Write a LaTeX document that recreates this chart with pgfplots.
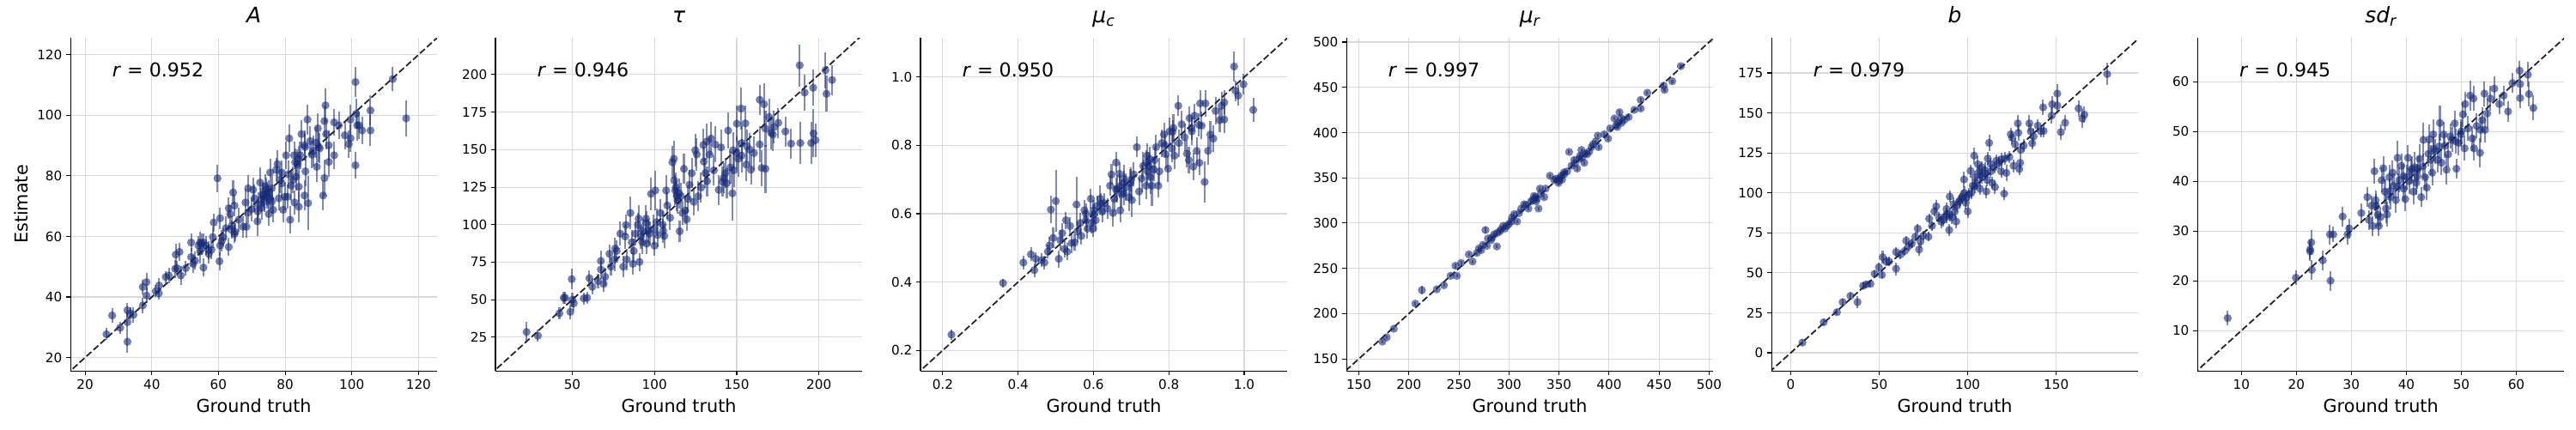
\documentclass[border=0pt]{standalone}
\usepackage{fontspec}
\setmainfont{DejaVu Sans}
\usepackage{pgfplots}
\pgfplotsset{compat=1.18}
\definecolor{navyc}{RGB}{22,42,120}
\pgfplotsset{
  panel/.style={
    scale only axis, width=308.6pt, height=280.4pt,
    anchor=south west,
    axis lines*=left, axis line style={line width=0.8pt,-},
    tick align=outside, major tick length=3.5pt,
    tick style={line width=0.8pt, black},
    grid=major, grid style={line width=0.8pt, color=gray!30},
    tick label style={font=\fontsize{11}{13}\selectfont},
    /pgf/number format/assume math mode=true,
    xlabel={Ground truth},
    label style={font=\fontsize{15}{18}\selectfont},
    xlabel style={at={(axis description cs:0.5,0)}, anchor=base, yshift=-35pt},
    title style={at={(axis description cs:0.5,1)}, anchor=base, yshift=6.7pt, font=\fontsize{18}{21}\selectfont\itshape},
    scaled ticks=false,
  },
  pts/.style={only marks, mark=*, mark size=3.4pt, color=navyc,
    mark options={draw opacity=0, fill opacity=0.6},
    error bars/.cd, y dir=both, y explicit, error mark=none,
    error bar style={line width=1.5pt, opacity=0.55, color=navyc}},
  diag/.style={black, line width=1.3pt, dash pattern=on 5.5pt off 2.4pt, opacity=0.85},
}
\newcommand{\rlab}[1]{\node[anchor=base west, font=\fontsize{16}{19}\selectfont] at (rel axis cs:0.103,0.884) {\textit{r} = #1};}
\begin{document}
\begin{tikzpicture}
\path[use as bounding box] (0,0) rectangle (2168pt,361.35pt);
% ---------------- A
\begin{axis}[panel, at={(59.3pt,49.1pt)}, title={A}, ylabel={Estimate},
  ylabel style={at={(axis description cs:-0.1155,0.5)}, anchor=base},
  xmin=15.6, xmax=125.6, ymin=15.6, ymax=125.6,
  xtick={20,40,60,80,100,120}, ytick={20,40,60,80,100,120}]
\addplot[diag] coordinates {(10,10) (130,130)};
\addplot[pts] table[x=x,y=y,y error=e,row sep=\\] {
x y e\\
26.4 27.7 2.0\\ 28.1 33.9 2.5\\ 30.5 29.8 2.0\\ 32.7 25.2 3.5\\ 32.7 31.7 3.0\\
32.7 35.6 2.5\\ 34.5 34.1 2.5\\ 33.5 34.6 2.0\\ 37.3 37.2 2.5\\ 37.3 43.3 2.5\\
38.4 44.9 3.0\\ 38.4 40.5 2.5\\ 41.2 41.9 2.0\\ 42.1 41.2 2.0\\ 42.2 43.8 2.5\\
44.2 46.6 2.0\\ 45.1 47.1 2.5\\ 47.0 49.3 3.0\\ 47.2 54.0 3.5\\ 48.3 54.9 3.0\\
47.6 49.5 2.5\\ 48.7 47.1 3.0\\ 50.2 49.5 2.5\\ 51.8 53.2 3.0\\ 51.8 58.0 3.0\\
52.4 50.9 3.0\\ 54.5 55.1 4.0\\ 54.5 58.0 3.5\\ 55.5 49.7 3.0\\ 56.2 57.0 3.0\\
57.1 54.2 3.0\\ 57.9 55.6 3.0\\ 58.3 59.8 3.5\\ 58.6 64.6 3.0\\ 59.7 79.2 4.5\\
60.3 51.8 3.0\\ 60.5 57.0 3.5\\ 60.5 66.0 3.5\\ 61.4 59.8 3.0\\ 62.2 62.7 4.0\\
63.1 69.3 3.5\\ 63.1 56.5 3.0\\ 63.5 67.4 3.0\\ 63.9 62.2 3.0\\ 64.4 74.5 4.0\\
64.8 70.2 3.5\\ 64.8 60.8 3.0\\ 66.1 65.5 4.0\\ 67.4 63.2 3.5\\ 68.1 71.2 4.5\\
68.4 63.2 3.5\\ 68.9 75.9 4.5\\ 68.9 67.9 3.5\\ 70.4 75.4 4.0\\ 70.8 72.6 4.5\\
71.7 65.0 5.0\\ 71.8 68.3 4.0\\ 72.5 77.8 5.0\\ 72.7 72.1 4.0\\ 73.4 74.0 4.0\\
73.8 71.6 3.5\\ 74.2 75.4 4.0\\ 74.7 73.1 4.0\\ 75.1 67.4 4.0\\ 75.5 81.1 4.5\\
76.0 75.9 4.0\\ 76.4 68.8 4.0\\ 77.3 82.0 4.0\\ 77.7 83.9 4.5\\ 78.1 72.6 4.0\\
78.5 78.7 4.5\\ 79.0 81.1 4.0\\ 79.4 68.8 4.0\\ 79.9 73.1 4.5\\ 80.3 86.8 4.5\\
80.7 73.1 4.0\\ 81.2 92.4 4.5\\ 81.5 65.5 4.5\\ 81.8 76.8 5.0\\ 82.4 78.7 4.5\\
82.7 86.8 4.5\\ 82.8 71.2 4.0\\ 83.3 79.7 4.5\\ 83.7 83.9 5.0\\ 84.1 76.4 5.0\\
84.1 69.8 5.0\\ 84.5 86.8 4.5\\ 84.9 93.8 4.5\\ 85.8 73.5 5.0\\ 86.1 81.5 5.0\\
85.8 90.1 5.0\\ 86.7 98.6 5.0\\ 86.9 71.0 9.0\\ 87.5 91.5 5.0\\ 88.4 88.2 5.0\\
89.3 91.0 5.0\\ 89.5 83.0 5.0\\ 89.8 95.7 5.0\\ 90.4 89.1 5.0\\ 91.4 73.5 5.0\\
91.8 79.3 6.0\\ 91.8 98.1 5.0\\ 92.1 103.3 5.5\\ 92.3 93.8 5.0\\ 93.1 90.1 5.0\\
93.1 84.6 5.0\\ 94.7 86.8 4.5\\ 94.7 97.7 4.5\\ 96.1 96.7 4.5\\ 97.9 93.4 4.5\\
99.1 90.5 4.5\\ 99.6 92.4 4.5\\ 99.6 98.6 5.0\\ 101.1 83.5 4.5\\ 101.1 111.0 5.0\\
101.3 100.5 5.0\\ 101.6 96.7 5.0\\ 102.2 96.7 4.5\\ 103.1 95.0 4.5\\ 105.6 101.6 5.0\\
105.6 95.0 5.0\\ 112.3 112.0 4.0\\ 116.3 99.0 6.0\\
55.5 58.0 3.0\\ 55.0 57.5 3.5\\ 54.0 57.0 3.0\\ 53.0 52.0 3.0\\ 57.0 55.5 3.0\\
61.0 58.5 3.5\\ 64.0 63.5 3.5\\ 65.0 61.5 3.0\\ 70.0 69.0 4.0\\ 72.0 70.5 4.0\\
74.0 76.5 4.0\\ 75.0 74.5 4.0\\ 73.0 69.5 4.0\\ 76.0 71.5 4.0\\ 79.0 77.5 4.5\\
81.0 80.5 4.5\\ 83.0 84.5 4.5\\ 84.0 85.5 4.5\\ 86.0 89.5 4.5\\ 88.0 87.0 4.5\\
90.0 89.5 5.0\\ 74.5 74.0 4.0\\ 75.5 72.5 4.0\\ 73.5 73.5 4.0\\
};
\rlab{0.952}
\end{axis}
% ---------------- tau
\begin{axis}[panel, at={(417.0pt,49.1pt)}, title={τ},
  xmin=3.3, xmax=226.3, ymin=2.6, ymax=224.5,
  xtick={50,100,150,200}, ytick={25,50,75,100,125,150,175,200,225}]
\addplot[diag] coordinates {(0,0) (230,230)};
\addplot[pts] table[x=x,y=y,y error=e,row sep=\\] {
x y e\\
22.2 28.5 7\\ 29.1 26.0 4\\ 42.2 40.9 4\\ 44.8 51.3 4\\ 45.7 51.3 4\\
48.8 41.9 5\\ 49.7 63.7 7\\ 50.0 49.9 5\\ 50.9 47.6 5\\ 57.0 50.9 4\\
59.0 51.3 4\\ 60.4 64.3 5\\ 62.2 58.6 5\\ 65.7 62.4 5\\ 67.4 75.8 7\\
67.4 70.1 6\\ 69.1 60.5 5\\ 70.0 65.3 6\\ 72.6 80.6 6\\ 73.5 72.0 6\\
75.8 76.8 8\\ 76.1 84.1 7\\ 77.0 82.5 7\\ 79.2 94.0 8\\ 81.0 72.0 7\\
82.2 92.1 8\\ 82.7 99.8 7\\ 83.1 76.8 7\\ 85.3 107.8 11\\ 86.2 88.3 8\\
86.9 73.9 7\\ 87.4 82.5 8\\ 88.3 94.0 8\\ 90.0 99.8 8\\ 90.4 104.0 9\\
90.9 75.2 6\\ 91.8 92.1 8\\ 92.6 88.3 8\\ 94.9 104.0 9\\ 95.2 87.3 7\\
96.1 96.0 8\\ 97.9 120.5 11\\ 99.6 96.9 10\\ 100.1 86.0 7\\ 100.5 122.8 13\\
101.3 101.7 9\\ 101.9 93.1 8\\ 103.6 107.8 9\\ 105.3 96.0 8\\ 106.0 92.5 8\\
107.1 122.8 10\\ 107.8 112.8 9\\ 109.5 104.6 8\\ 110.9 141.6 11\\ 111.8 143.9 12\\
112.0 129.5 11\\ 112.6 122.8 10\\ 113.5 119.0 10\\ 114.0 116.1 9\\ 115.3 95.6 7\\
116.1 119.0 9\\ 117.0 107.8 8\\ 117.9 137.2 10\\ 118.7 109.4 9\\ 119.6 103.6 8\\
120.4 117.1 9\\ 121.3 126.6 10\\ 122.7 134.3 10\\ 123.9 115.2 9\\ 124.8 149.6 11\\
125.7 146.8 11\\ 126.6 119.0 10\\ 128.3 124.7 10\\ 129.7 153.1 11\\ 130.0 142.0 10\\
130.9 134.3 10\\ 131.8 155.4 12\\ 133.5 146.8 12\\ 134.4 157.4 11\\ 136.1 136.2 10\\
137.0 153.4 12\\ 139.1 123.2 10\\ 140.5 151.5 12\\ 141.4 128.5 10\\ 143.1 134.3 10\\
144.0 127.6 10\\ 144.8 162.7 12\\ 146.1 138.1 11\\ 147.4 120.9 18\\ 147.8 149.6 12\\
148.3 136.2 11\\ 150.1 167.3 12\\ 150.9 143.9 12\\ 152.7 177.4 14\\ 153.0 154.4 12\\
155.3 167.5 12\\ 155.8 140.0 11\\ 156.1 152.5 11\\ 158.7 136.6 10\\ 160.5 147.7 11\\
164.0 183.2 10\\ 164.0 153.5 12\\ 165.2 137.8 12\\ 166.6 180.3 14\\ 167.5 137.2 16\\
167.5 164.0 12\\ 169.7 171.7 12\\ 170.9 161.2 11\\ 172.7 165.0 11\\ 175.3 167.9 10\\
179.6 162.1 10\\ 183.1 154.0 10\\ 188.3 206.2 14\\ 188.7 154.4 14\\ 191.3 188.0 12\\
195.3 154.4 14\\ 196.5 191.2 12\\ 196.7 160.8 16\\ 197.9 156.3 11\\ 204.0 202.9 12\\
204.6 187.2 12\\ 208.0 196.4 10\\
93.0 96.0 8\\ 95.0 101.0 8\\ 97.0 94.0 8\\ 105.0 100.0 9\\ 113.0 125.0 10\\
115.0 121.0 10\\ 132.0 129.0 10\\ 142.0 131.0 10\\ 150.0 148.0 11\\ 153.0 146.0 11\\
158.0 150.0 11\\ 172.0 160.0 11\\
};
\rlab{0.946}
\end{axis}
% ---------------- mu_c
\begin{axis}[panel, at={(774.7pt,49.1pt)}, title={μ\textsubscript{c}},
  xmin=0.141, xmax=1.114, ymin=0.14, ymax=1.115,
  xtick={0.2,0.4,0.6,0.8,1.0}, ytick={0.2,0.4,0.6,0.8,1.0},
  xticklabel style={/pgf/number format/.cd, fixed, fixed zerofill, precision=1},
  yticklabel style={/pgf/number format/.cd, fixed, fixed zerofill, precision=1}]
\addplot[diag] coordinates {(0,0) (1.2,1.2)};
\addplot[pts] table[x=x,y=y,y error=e,row sep=\\] {
x y e\\
0.223 0.246 0.015\\ 0.360 0.397 0.012\\ 0.414 0.457 0.02\\ 0.434 0.481 0.02\\ 0.443 0.435 0.02\\
0.447 0.468 0.02\\ 0.462 0.464 0.02\\ 0.470 0.457 0.02\\ 0.479 0.489 0.02\\ 0.483 0.507 0.025\\
0.487 0.612 0.04\\ 0.493 0.529 0.03\\ 0.500 0.637 0.09\\ 0.508 0.468 0.025\\ 0.512 0.523 0.03\\
0.517 0.543 0.03\\ 0.523 0.497 0.025\\ 0.527 0.581 0.025\\ 0.530 0.489 0.025\\ 0.538 0.564 0.025\\
0.542 0.514 0.03\\ 0.550 0.516 0.025\\ 0.555 0.627 0.08\\ 0.557 0.548 0.03\\ 0.565 0.573 0.03\\
0.568 0.535 0.025\\ 0.576 0.610 0.03\\ 0.580 0.581 0.03\\ 0.584 0.556 0.03\\ 0.593 0.644 0.03\\
0.595 0.573 0.03\\ 0.599 0.556 0.025\\ 0.600 0.598 0.03\\ 0.606 0.581 0.03\\ 0.610 0.623 0.03\\
0.618 0.644 0.04\\ 0.623 0.606 0.03\\ 0.629 0.631 0.03\\ 0.637 0.615 0.03\\ 0.644 0.682 0.03\\
0.648 0.715 0.03\\ 0.652 0.602 0.04\\ 0.655 0.644 0.04\\ 0.660 0.750 0.03\\ 0.663 0.673 0.04\\
0.669 0.717 0.035\\ 0.671 0.610 0.035\\ 0.675 0.657 0.04\\ 0.681 0.703 0.04\\ 0.686 0.677 0.04\\
0.694 0.648 0.04\\ 0.698 0.690 0.04\\ 0.702 0.640 0.05\\ 0.707 0.715 0.035\\ 0.715 0.795 0.03\\
0.721 0.665 0.04\\ 0.728 0.703 0.04\\ 0.732 0.740 0.04\\ 0.740 0.682 0.04\\ 0.742 0.770 0.035\\
0.743 0.724 0.04\\ 0.747 0.740 0.04\\ 0.751 0.707 0.05\\ 0.755 0.682 0.06\\ 0.762 0.757 0.04\\
0.766 0.795 0.035\\ 0.772 0.682 0.035\\ 0.775 0.724 0.04\\ 0.781 0.807 0.04\\ 0.787 0.832 0.035\\
0.792 0.774 0.04\\ 0.798 0.732 0.04\\ 0.802 0.841 0.04\\ 0.808 0.791 0.04\\ 0.812 0.851 0.04\\
0.815 0.770 0.04\\ 0.825 0.916 0.03\\ 0.827 0.807 0.04\\ 0.834 0.862 0.04\\ 0.842 0.824 0.04\\
0.848 0.776 0.04\\ 0.853 0.757 0.04\\ 0.855 0.880 0.035\\ 0.861 0.841 0.04\\ 0.865 0.738 0.04\\
0.868 0.887 0.035\\ 0.874 0.784 0.04\\ 0.881 0.749 0.035\\ 0.883 0.923 0.04\\ 0.887 0.858 0.04\\
0.895 0.693 0.06\\ 0.897 0.923 0.04\\ 0.904 0.784 0.04\\ 0.910 0.832 0.04\\ 0.918 0.820 0.04\\
0.924 0.901 0.04\\ 0.935 0.874 0.035\\ 0.940 0.916 0.04\\ 0.947 0.926 0.035\\ 0.947 0.876 0.04\\
0.973 1.031 0.045\\ 0.977 0.960 0.03\\ 0.984 0.946 0.03\\ 0.998 0.979 0.03\\ 1.024 0.904 0.035\\
0.58 0.60 0.03\\ 0.60 0.61 0.03\\ 0.62 0.63 0.03\\ 0.66 0.67 0.035\\ 0.67 0.68 0.035\\
0.68 0.66 0.035\\ 0.68 0.69 0.035\\ 0.70 0.70 0.035\\ 0.74 0.75 0.035\\ 0.75 0.76 0.035\\
0.76 0.73 0.035\\ 0.79 0.80 0.035\\ 0.81 0.84 0.035\\ 0.86 0.85 0.035\\ 0.88 0.86 0.035\\
};
\rlab{0.950}
\end{axis}
% ---------------- mu_r
\begin{axis}[panel, at={(1133.2pt,49.1pt)}, title={μ\textsubscript{r}},
  xmin=137.6, xmax=504, ymin=136.7, ymax=504.7,
  xtick={150,200,250,300,350,400,450,500}, ytick={150,200,250,300,350,400,450,500}]
\addplot[diag] coordinates {(130,130) (510,510)};
\addplot[pts] table[x=x,y=y,y error=e,row sep=\\] {
x y e\\
173.5 169.0 2\\ 177.8 173.7 2\\ 184.9 183.2 2\\ 206.4 211.0 2\\ 213.0 225.9 5\\
227.8 226.8 2\\ 235.0 231.3 2\\ 241.6 241.7 2\\ 246.5 252.8 3\\ 247.9 241.7 2\\
252.2 255.9 2\\ 259.9 265.4 2\\ 263.6 257.5 2\\ 267.9 267.0 2\\ 272.2 270.1 2\\
276.5 292.3 4\\ 277.9 274.9 2\\ 282.2 281.2 2\\ 285.1 287.5 2\\ 287.9 274.2 2\\
290.8 290.7 2\\ 294.2 297.0 2\\ 297.9 297.0 2\\ 302.3 301.8 3\\ 305.1 309.7 3\\
308.0 301.8 2\\ 312.3 316.0 3\\ 315.1 320.7 2\\ 319.4 316.0 2\\ 323.7 325.5 3\\
326.6 328.6 2\\ 329.5 316.0 2\\ 330.9 338.1 2\\ 335.2 328.6 2\\ 336.6 338.1 2\\
340.9 352.3 2\\ 345.2 347.6 3\\ 349.5 344.4 3\\ 352.3 352.3 2\\ 355.2 353.9 2\\
358.1 357.1 2\\ 360.1 378.6 2\\ 362.4 363.4 3\\ 365.2 369.7 3\\ 368.1 360.2 2\\
371.0 374.5 3\\ 372.4 380.8 2\\ 375.2 366.6 2\\ 378.1 376.0 3\\ 382.4 383.9 2\\
386.7 390.3 2\\ 388.7 396.6 2\\ 389.6 383.9 2\\ 395.3 398.2 2\\ 399.0 393.4 2\\
401.0 404.5 2\\ 405.3 415.6 2\\ 408.2 406.1 2\\ 410.4 422.5 3\\ 412.5 410.8 2\\
415.3 414.0 2\\ 419.6 417.1 2\\ 425.3 425.1 2\\ 431.6 426.6 2\\ 431.6 436.1 2\\
438.2 444.0 2\\ 454.5 451.9 2\\ 455.4 447.2 2\\ 463.1 456.7 2\\ 471.7 473.4 2\\
270 272 2\\ 274 276 2\\ 279 283 2\\ 283 284 2\\ 288 289 2\\
292 293 2\\ 296 294 2\\ 300 299 2\\ 303 306 2\\ 310 311 2\\
317 320 2\\ 322 324 2\\ 325 330 2\\ 327 324 2\\ 328 327 2\\
332 333 2\\ 347 349 2\\ 350 347 2\\ 351 350 2\\ 353 348 2\\
355 356 2\\ 366 366 2\\ 370 371 2\\ 373 372 2\\ 376 377 2\\
380 379 2\\ 384 387 2\\ 407 408 2\\ 409 411 2\\ 412 416 2\\
};
\rlab{0.997}
\end{axis}
% ---------------- b
\begin{axis}[panel, at={(1490.9pt,49.1pt)}, title={b},
  xmin=-10.9, xmax=196.3, ymin=-11.3, ymax=197,
  xtick={0,50,100,150}, ytick={0,25,50,75,100,125,150,175}]
\addplot[diag] coordinates {(-20,-20) (210,210)};
\addplot[pts] table[x=x,y=y,y error=e,row sep=\\] {
x y e\\
6.6 6.4 1.5\\ 18.6 19.1 2\\ 26.1 25.4 2\\ 29.3 31.7 2\\ 33.7 35.6 2\\
37.7 31.7 4\\ 40.9 41.9 2\\ 42.6 42.8 2\\ 45.0 43.1 2\\ 47.4 49.4 2\\
49.8 53.5 3\\ 51.5 48.7 2\\ 51.9 59.8 4\\ 53.9 57.1 3\\ 55.5 57.1 3\\
59.5 52.6 4\\ 59.5 63.0 3\\ 62.0 61.5 3\\ 64.4 63.7 3\\ 65.2 70.1 3\\
66.5 66.6 3\\ 68.4 68.3 3\\ 70.4 72.6 3\\ 71.7 77.7 3\\ 72.5 64.6 4\\
73.3 69.6 4\\ 74.9 73.2 3\\ 77.8 72.6 3\\ 78.2 83.9 3\\ 79.8 79.4 3\\
81.1 88.4 3\\ 82.2 91.6 4\\ 83.8 84.8 3\\ 86.2 83.0 4\\ 87.9 86.6 4\\
89.5 76.8 4\\ 89.8 97.7 4\\ 91.1 84.8 4\\ 92.7 88.4 4\\ 93.5 82.1 4\\
95.1 94.6 4\\ 96.8 97.3 4\\ 97.9 108.4 5\\ 98.9 93.8 4\\ 100.0 88.4 4\\
100.8 99.1 4\\ 101.6 113.8 4\\ 102.8 104.5 4\\ 103.6 123.3 5\\ 104.0 109.9 4\\
104.9 106.3 4\\ 105.7 117.9 5\\ 106.5 113.4 4\\ 106.9 102.7 4\\ 108.1 109.9 4\\
109.7 114.3 5\\ 110.5 100.9 4\\ 111.3 121.5 4\\ 112.1 131.3 5\\ 112.9 113.4 4\\
113.8 106.3 4\\ 115.4 103.6 4\\ 116.2 120.2 4\\ 117.8 118.8 4\\ 118.9 113.4 4\\
120.6 99.5 4\\ 121.0 121.5 4\\ 121.8 112.5 5\\ 123.5 122.4 4\\ 124.3 136.7 4\\
125.1 134.5 4\\ 125.9 117.0 4\\ 126.7 130.4 4\\ 128.3 143.5 5\\ 128.6 137.6 5\\
129.1 114.9 4\\ 129.6 118.8 4\\ 129.9 126.9 4\\ 131.6 129.5 4\\ 134.8 143.5 5\\
135.6 138.5 5\\ 136.4 131.0 4\\ 137.2 135.3 5\\ 139.6 142.1 4\\ 141.3 138.5 4\\
142.9 138.8 4\\ 142.6 153.5 5\\ 147.4 148.3 5\\ 147.7 155.5 5\\ 150.6 162.1 6\\
150.6 154.6 5\\ 152.6 138.0 5\\ 155.0 143.9 5\\ 162.6 152.8 5\\ 164.7 146.5 6\\
165.9 148.9 5\\ 178.8 174.3 7\\
88 85 4\\ 90 86 4\\ 94 92 4\\ 96 96 4\\ 98 100 4\\
99 97 4\\ 102 100 4\\ 104 104 4\\ 107 111 4\\ 108 116 4\\
110 112 4\\ 111 108 4\\ 113 118 4\\ 115 116 4\\ 119 121 4\\
88 90 4\\ 92 93 4\\ 85 82 4\\
};
\rlab{0.979}
\end{axis}
% ---------------- sd_r
\begin{axis}[panel, at={(1849.4pt,49.1pt)}, title={sd\textsubscript{r}},
  xmin=2.0, xmax=68.7, ymin=1.9, ymax=68.8,
  xtick={10,20,30,40,50,60}, ytick={10,20,30,40,50,60}]
\addplot[diag] coordinates {(0,0) (70,70)};
\addplot[pts] table[x=x,y=y,y error=e,row sep=\\] {
x y e\\
7.5 12.5 1.5\\ 19.9 20.6 1.5\\ 22.7 27.7 2.5\\ 22.5 25.9 2\\ 22.5 26.3 2\\
22.8 22.2 2\\ 24.8 24.1 2\\ 26.2 20.0 2\\ 26.1 29.3 2\\ 26.7 29.3 1.5\\
28.4 32.9 2\\ 29.3 29.3 2\\ 29.6 30.5 2\\ 31.8 33.6 2\\ 32.9 36.8 2\\
33.2 32.2 2\\ 33.7 35.1 2\\ 33.9 31.0 2\\ 34.2 42.0 2.5\\ 34.4 36.2 2\\
34.8 33.3 2.5\\ 35.0 31.0 2\\ 35.3 32.8 2\\ 35.5 40.2 2.5\\ 35.8 42.6 2.5\\
36.1 37.9 2.5\\ 36.3 34.5 3\\ 36.5 33.3 2.5\\ 36.9 40.8 2.5\\ 37.1 36.8 2.5\\
37.5 41.7 2.5\\ 37.7 39.1 2.5\\ 38.1 36.2 2.5\\ 38.4 44.7 3.5\\ 38.7 40.2 2.5\\
39.1 43.1 2.5\\ 39.5 38.5 2.5\\ 39.8 36.4 2.5\\ 40.1 40.8 2.5\\ 40.3 44.7 2.5\\
40.8 42.0 2.5\\ 41.3 37.9 2.5\\ 41.5 42.8 3\\ 41.8 39.7 2.5\\ 42.1 42.5 2.5\\
42.4 44.5 3\\ 42.7 36.8 2\\ 43.1 48.3 3.5\\ 43.4 40.8 2.5\\ 43.7 38.7 2.5\\
44.2 48.4 3\\ 44.4 44.3 3\\ 44.7 41.7 2.5\\ 44.9 49.4 3\\ 45.2 46.0 2.5\\
45.7 44.3 2.5\\ 46.1 51.7 3.5\\ 46.4 43.7 2.5\\ 46.8 49.4 2.5\\ 47.0 47.1 2.5\\
47.3 42.3 3\\ 47.6 45.4 2.5\\ 48.3 48.3 2.5\\ 48.8 51.6 2.5\\ 49.1 42.5 2\\
49.5 47.7 2.5\\ 49.9 49.4 2.5\\ 50.3 53.4 2.5\\ 50.6 46.6 2.5\\ 50.7 55.5 2.5\\
51.2 50.6 2.5\\ 51.6 57.2 3\\ 52.0 48.6 2.5\\ 52.2 56.6 2.5\\ 52.3 46.6 2.5\\
52.8 51.1 2.5\\ 53.4 45.7 3\\ 53.5 50.3 2.5\\ 53.8 52.3 2.5\\ 54.2 57.6 2.5\\
54.3 50.3 2.5\\ 54.7 53.6 3\\ 55.3 56.6 2.5\\ 56.0 58.6 2.5\\ 56.9 55.5 2\\
57.7 57.2 2\\ 58.5 54.0 2\\ 59.3 59.7 2\\ 60.6 62.2 2\\ 60.7 59.5 2\\
60.7 56.7 2\\ 62.1 61.4 2.5\\ 62.3 57.5 2.5\\ 63.1 54.7 2.5\\
34.5 35 2.5\\ 37 38 2.5\\ 38.5 39 2.5\\ 39.5 41 2.5\\ 40.5 40 2.5\\
41 42.5 2.5\\ 42 41 2.5\\ 43 43 2.5\\ 44 45.5 2.5\\ 45 46.5 2.5\\
46 47 2.5\\ 48 49 2.5\\ 49 48 2.5\\ 50 50 2.5\\
};
\rlab{0.945}
\end{axis}
\end{tikzpicture}
\end{document}
